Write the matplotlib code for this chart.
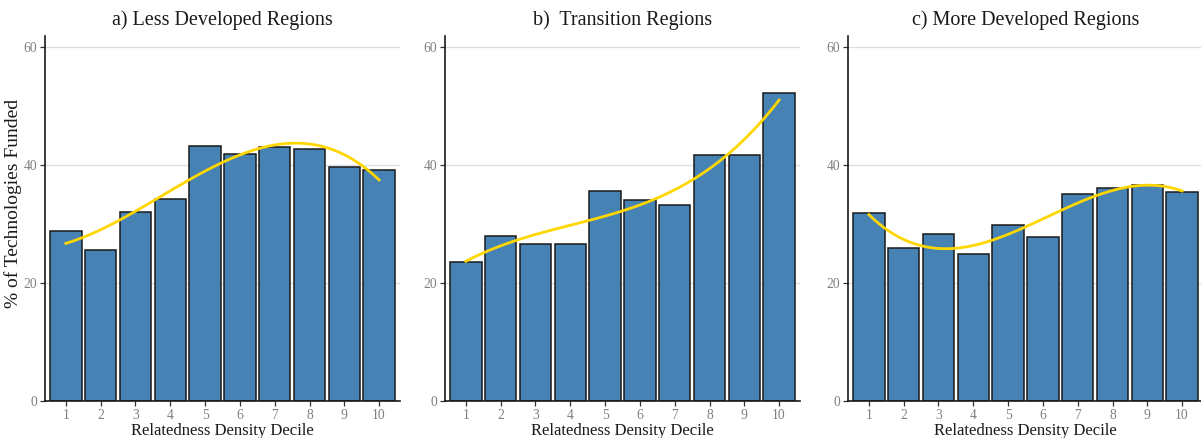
import numpy as np
import matplotlib
matplotlib.use("Agg")
import matplotlib.pyplot as plt

deciles = list(range(1, 11))
titles = ["a) Less Developed Regions", "b)  Transition Regions", "c) More Developed Regions"]
less_developed = [28.9, 25.6, 32.1, 34.2, 43.3, 41.9, 43.1, 42.7, 39.7, 39.1]
transition = [23.5, 28.0, 26.6, 26.6, 35.6, 34.1, 33.3, 41.7, 41.7, 52.2]
more_developed = [31.8, 26.0, 28.3, 25.0, 29.8, 27.8, 35.1, 36.1, 36.6, 35.4]
series = [less_developed, transition, more_developed]
yticks = [0, 20, 40, 60]

plt.rcParams['font.family'] = ['Liberation Serif', 'DejaVu Serif']

fig = plt.figure(figsize=(12.01, 4.38), dpi=100)
lefts = [45 / 1201, 445 / 1201, 848 / 1201]
W = 355 / 1201
B = 1 - 401 / 438
H = (401 - 36) / 438

for i, (vals, title) in enumerate(zip(series, titles)):
    ax = fig.add_axes([lefts[i], B, W, H])
    ax.set_axisbelow(True)
    ax.yaxis.grid(True, color='#dedede', linewidth=0.9)
    ax.bar(deciles, vals, width=0.9, color='#4682B4', edgecolor='#1a1a1a', linewidth=1.1, zorder=2)
    # smoothed trend fitted to the bar values (cubic least squares)
    coef = np.polyfit(deciles, vals, 3)
    xs = np.linspace(1, 10, 120)
    ax.plot(xs, np.polyval(coef, xs), color='#FFD700', linewidth=2.0, zorder=3)
    ax.set_xlim(0.4, 10.6)
    ax.set_ylim(0, 61.9)
    ax.set_xticks(deciles)
    ax.set_xticklabels([str(d) for d in deciles])
    ax.set_yticks(yticks)
    for s in ['top', 'right']:
        ax.spines[s].set_visible(False)
    for s in ['left', 'bottom']:
        ax.spines[s].set_linewidth(1.2)
        ax.spines[s].set_color('#1a1a1a')
    ax.tick_params(axis='both', colors='#333333', labelcolor='#808080', labelsize=9.8,
                   length=3.5, width=0.9, pad=2)
    ax.set_title(title, fontsize=14.5, color='#1a1a1a', pad=8)
    ax.set_xlabel("Relatedness Density Decile", fontsize=12, color='#1a1a1a', labelpad=1)
    if i == 0:
        ax.set_ylabel("% of Technologies Funded", fontsize=14, color='#1a1a1a')
        ax.yaxis.set_label_coords(-0.066, 0.54)

fig.savefig("out.png", dpi=100)
